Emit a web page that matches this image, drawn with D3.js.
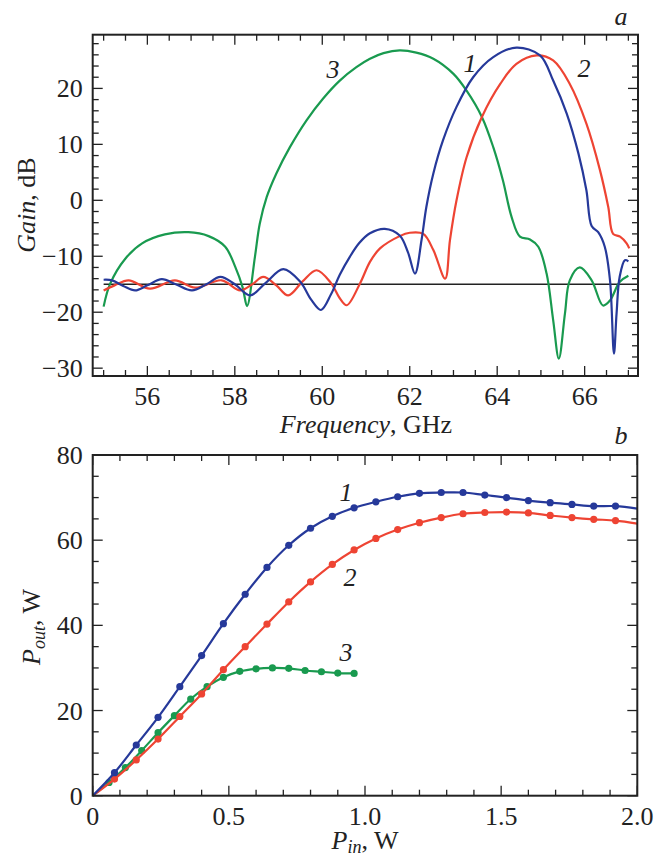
<!DOCTYPE html>
<html>
<head>
<meta charset="utf-8">
<script src="https://cdn.jsdelivr.net/npm/d3@7"></script>
<style>
  body { margin: 0; background: #fff; }
  svg { display: block; font-family: "Liberation Serif", "DejaVu Serif", serif; }
</style>
</head>
<body>
<svg id="chart"></svg>
<script>
// panel a: gain vs frequency, [GHz, dB]
const gain1 = [
  [55.0, -14.2], [55.19, -14.3], [55.45, -15.3], [55.72, -16.1], [56.0, -15.2], [56.33, -14.1],
  [56.65, -15.0], [57.02, -16.1], [57.35, -15.0], [57.67, -13.7], [58.0, -15.0], [58.35, -17.0],
  [58.7, -14.8], [59.11, -12.3], [59.5, -14.6], [59.75, -17.8], [59.97, -19.6], [60.2, -16.8],
  [60.4, -13.3], [60.63, -10.1], [60.85, -7.6], [61.09, -5.9], [61.43, -5.1], [61.77, -6.3],
  [61.96, -9.3], [62.12, -13.1], [62.27, -7.1], [62.38, -1.2], [62.54, 4.8], [62.76, 10.7],
  [63.07, 16.7], [63.45, 22.0], [63.91, 25.6], [64.44, 27.3], [64.98, 25.9], [65.28, 21.4],
  [65.59, 15.5], [65.86, 8.3], [66.04, 1.8], [66.16, -4.6], [66.31, -5.7], [66.46, -8.3],
  [66.58, -14.3], [66.67, -27.4], [66.73, -20.2], [66.8, -13.7], [66.92, -10.7], [67.0, -10.9]
];
const gain2 = [
  [55.0, -16.1], [55.25, -15.2], [55.57, -14.3], [56.06, -15.8], [56.63, -14.3], [57.09, -15.6],
  [57.7, -14.3], [58.12, -16.1], [58.4, -15.0], [58.65, -13.7], [58.95, -15.2], [59.22, -17.0],
  [59.55, -14.5], [59.87, -12.5], [60.2, -14.8], [60.4, -17.5], [60.56, -18.75], [60.86, -14.9],
  [61.09, -11.0], [61.32, -8.6], [61.77, -6.4], [62.0, -5.8], [62.31, -6.0], [62.54, -8.9],
  [62.81, -14.0], [62.92, -7.1], [63.07, 0.0], [63.30, 7.7], [63.65, 14.9], [64.07, 20.8],
  [64.44, 24.4], [64.9, 25.9], [65.28, 25.0], [65.66, 20.8], [66.04, 13.7], [66.35, 5.4],
  [66.54, -1.2], [66.65, -6.0], [66.81, -6.5], [66.96, -7.7], [67.02, -8.6]
];
const gain3 = [
  [55.0, -19.0], [55.15, -14.9], [55.5, -10.4], [55.88, -7.7], [56.4, -6.1], [56.94, -5.7],
  [57.4, -6.4], [57.78, -8.3], [58.01, -11.9], [58.18, -15.6], [58.28, -18.9], [58.46, -10.1],
  [58.57, -4.2], [58.73, 0.6], [58.95, 4.8], [59.26, 9.5], [59.64, 14.3], [60.02, 18.2],
  [60.40, 21.4], [60.78, 23.8], [61.09, 25.3], [61.4, 26.3], [61.77, 26.8], [62.15, 26.4],
  [62.54, 25.3], [63.0, 22.6], [63.30, 19.6], [63.65, 14.9], [63.91, 9.5], [64.13, 3.6],
  [64.33, -3.0], [64.52, -6.5], [64.75, -7.0], [64.94, -8.3], [65.13, -13.1], [65.28, -21.4],
  [65.41, -28.3], [65.55, -20.2], [65.66, -14.3], [65.89, -12.0], [66.16, -14.3], [66.42, -18.8],
  [66.58, -17.9], [66.8, -14.6], [67.0, -13.5]
];
const gainLevel = -15;

// panel b: output power vs input power
const pin1 = [0.08, 0.16, 0.24, 0.32, 0.40, 0.48, 0.56, 0.64, 0.72, 0.80, 0.88, 0.96,
  1.04, 1.12, 1.20, 1.28, 1.36, 1.44, 1.52, 1.60, 1.68, 1.76, 1.84, 1.92];
const pout1 = [5.4, 11.9, 18.4, 25.6, 32.9, 40.4, 47.3, 53.6, 58.8, 62.8, 65.6, 67.6,
  69.0, 70.2, 71.0, 71.2, 71.2, 70.6, 70.0, 69.3, 68.8, 68.4, 68.0, 68.0];
const pin2 = pin1;
const pout2 = [3.9, 8.4, 13.3, 18.6, 23.9, 29.6, 35.0, 40.3, 45.5, 50.2, 54.3, 57.7,
  60.4, 62.5, 64.1, 65.3, 66.2, 66.5, 66.6, 66.4, 65.8, 65.3, 64.9, 64.6];
const pin3 = [0.06, 0.12, 0.18, 0.24, 0.30, 0.36, 0.42, 0.48, 0.54, 0.60, 0.66, 0.72,
  0.78, 0.84, 0.90, 0.96];
const pout3 = [3.1, 6.6, 10.6, 14.8, 18.8, 22.7, 25.6, 27.8, 29.2, 29.8, 30.0, 29.9,
  29.4, 29.1, 28.8, 28.7];
const tail1 = [2.0, 67.4];
const tail2 = [2.0, 63.9];

const blue = '#26399a', red = '#ee4433', green = '#199a4f';
const FS = 26;

const svg = d3.select('#chart').attr('width', 667).attr('height', 857);

function frameAxes(g, x, y, xMajor, xMinor, yMajor, yMinor, xFmt, yFmt) {
  const [x0, x1] = x.range();
  const [y0, y1] = y.range();
  const ticks = g.append('g').attr('stroke', '#222').attr('stroke-width', 1.3);
  xMinor.forEach(v => {
    const L = xMajor.includes(v) ? 10 : 6;
    ticks.append('line').attr('x1', x(v)).attr('x2', x(v)).attr('y1', y0).attr('y2', y0 - L);
    ticks.append('line').attr('x1', x(v)).attr('x2', x(v)).attr('y1', y1).attr('y2', y1 + L);
  });
  yMinor.forEach(v => {
    const L = yMajor.includes(v) ? 10 : 6;
    ticks.append('line').attr('y1', y(v)).attr('y2', y(v)).attr('x1', x0).attr('x2', x0 + L);
    ticks.append('line').attr('y1', y(v)).attr('y2', y(v)).attr('x1', x1).attr('x2', x1 - L);
  });
  g.append('rect').attr('x', x0).attr('y', y1).attr('width', x1 - x0).attr('height', y0 - y1)
    .attr('fill', 'none').attr('stroke', '#222').attr('stroke-width', 2);
  g.selectAll('.xl').data(xMajor).enter().append('text')
    .attr('x', d => x(d)).attr('y', y0 + 29).attr('text-anchor', 'middle')
    .attr('font-size', FS).attr('fill', '#222').text(xFmt);
  g.selectAll('.yl').data(yMajor).enter().append('text')
    .attr('x', x0 - 10).attr('y', d => y(d) + 9).attr('text-anchor', 'end')
    .attr('font-size', FS).attr('fill', '#222').text(yFmt);
}

function range(a, b, s) {
  const out = [];
  for (let v = a; v <= b + 1e-9; v += s) out.push(Math.round(v * 1000) / 1000);
  return out;
}

// ---- panel a ----
const xa = d3.scaleLinear().domain([54.75, 67.22]).range([92.7, 638]);
const ya = d3.scaleLinear().domain([-31.4, 29.6]).range([376, 34.7]);
const ga = svg.append('g');

const lineA = d3.line().x(d => xa(d[0])).y(d => ya(d[1])).curve(d3.curveCatmullRom.alpha(0.5));

ga.append('line').attr('x1', xa(55)).attr('x2', xa(67.22))
  .attr('y1', ya(gainLevel)).attr('y2', ya(gainLevel))
  .attr('stroke', '#222').attr('stroke-width', 1.3);

[[gain3, green], [gain2, red], [gain1, blue]].forEach(([d, c]) => {
  ga.append('path').datum(d).attr('d', lineA).attr('fill', 'none')
    .attr('stroke', c).attr('stroke-width', 2.2);
});

frameAxes(ga, xa, ya, [56, 58, 60, 62, 64, 66], range(55, 67, 0.5),
  [-30, -20, -10, 0, 10, 20], range(-30, 28, 2),
  d => d, d => d < 0 ? '\u2212' + Math.abs(d) : d);

ga.append('text').attr('x', 366).attr('y', 433).attr('text-anchor', 'middle')
  .attr('font-size', FS).attr('fill', '#222')
  .call(t => {
    t.append('tspan').attr('font-style', 'italic').text('Frequency');
    t.append('tspan').text(', GHz');
  });
ga.append('text').attr('transform', 'translate(35,205) rotate(-90)').attr('text-anchor', 'middle')
  .attr('font-size', FS).attr('fill', '#222')
  .call(t => {
    t.append('tspan').attr('font-style', 'italic').text('Gain');
    t.append('tspan').text(', dB');
  });
ga.append('text').attr('x', 621).attr('y', 25).attr('text-anchor', 'middle')
  .attr('font-size', FS).attr('font-style', 'italic').attr('fill', '#222').text('a');
[['3', 333, 78], ['1', 470, 72], ['2', 584, 77]].forEach(([s, x, y]) => {
  ga.append('text').attr('x', x).attr('y', y).attr('text-anchor', 'middle')
    .attr('font-size', FS).attr('font-style', 'italic').attr('fill', '#222').text(s);
});

// ---- panel b ----
const xb = d3.scaleLinear().domain([0, 2]).range([92.7, 637.3]);
const yb = d3.scaleLinear().domain([0, 80]).range([795.7, 455]);
const gb = svg.append('g');

const lineB = d3.line().x(d => xb(d[0])).y(d => yb(d[1])).curve(d3.curveCatmullRom.alpha(0.5));

const seriesB = [
  { pin: pin3, pout: pout3, tail: null, color: green },
  { pin: pin2, pout: pout2, tail: tail2, color: red },
  { pin: pin1, pout: pout1, tail: tail1, color: blue }
];

seriesB.forEach(s => {
  const pts = s.pin.map((p, i) => [p, s.pout[i]]);
  const path = [[0, 0]].concat(pts, s.tail ? [s.tail] : []);
  gb.append('path').datum(path).attr('d', lineB).attr('fill', 'none')
    .attr('stroke', s.color).attr('stroke-width', 2.2);
  gb.selectAll(null).data(pts).enter().append('circle')
    .attr('cx', d => xb(d[0])).attr('cy', d => yb(d[1])).attr('r', 3.6)
    .attr('fill', s.color);
});

frameAxes(gb, xb, yb, [0, 0.5, 1, 1.5, 2], range(0, 2, 0.1),
  [0, 20, 40, 60, 80], range(0, 80, 5),
  d => d === 0 ? '0' : d3.format('.1f')(d), d => d);

gb.append('text').attr('x', 365).attr('y', 849).attr('text-anchor', 'middle')
  .attr('font-size', FS).attr('fill', '#222')
  .call(t => {
    t.append('tspan').attr('font-style', 'italic').text('P');
    t.append('tspan').attr('font-style', 'italic').attr('font-size', 18).attr('dy', 4).text('in');
    t.append('tspan').attr('dy', -4).text(', W');
  });
gb.append('text').attr('transform', 'translate(40,627) rotate(-90)').attr('text-anchor', 'middle')
  .attr('font-size', FS).attr('fill', '#222')
  .call(t => {
    t.append('tspan').attr('font-style', 'italic').text('P');
    t.append('tspan').attr('font-style', 'italic').attr('font-size', 18).attr('dy', 5).text('out');
    t.append('tspan').attr('dy', -5).text(', W');
  });
gb.append('text').attr('x', 621).attr('y', 444).attr('text-anchor', 'middle')
  .attr('font-size', FS).attr('font-style', 'italic').attr('fill', '#222').text('b');
[['1', 346, 501], ['2', 350, 586], ['3', 346, 661]].forEach(([s, x, y]) => {
  gb.append('text').attr('x', x).attr('y', y).attr('text-anchor', 'middle')
    .attr('font-size', FS).attr('font-style', 'italic').attr('fill', '#222').text(s);
});
</script>
</body>
</html>
